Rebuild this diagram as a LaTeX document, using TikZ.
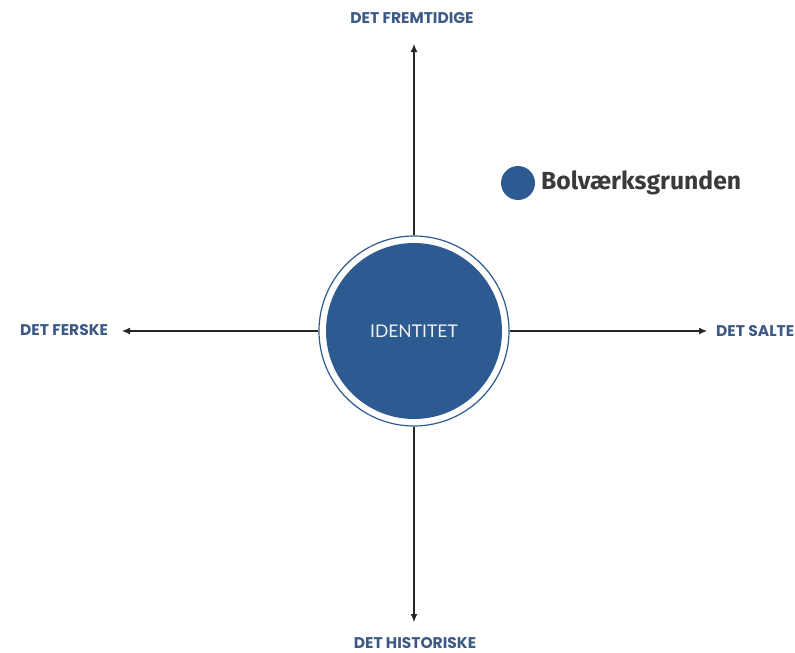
\documentclass[tikz,border=0pt]{standalone}
\usepackage{fontspec}
\setmainfont{Lato}
\newfontfamily\fira{Fira Sans}
\newfontfamily\pop{Poppins}
\usetikzlibrary{arrows.meta}
\definecolor{circblue}{HTML}{2D5B91}
\definecolor{lblblue}{HTML}{3D5A86}
\definecolor{darktxt}{HTML}{3A3A3A}
\tikzset{
  axislabel/.style={font=\pop\fontsize{15.5}{18}\selectfont\bfseries, text=lblblue, inner sep=0pt},
  axis/.style={line width=1.1pt, black!85, -{Latex[length=8pt,width=7pt]}},
}
\begin{document}
\begin{tikzpicture}[x=1pt,y=-1pt]
\useasboundingbox (0,0) rectangle (795,653);
\node[circle, draw=circblue, line width=1.2pt, minimum size=190pt, inner sep=0pt] (ring) at (414,331) {};
\node[circle, fill=circblue, minimum size=176pt, inner sep=0pt, text=white!92!circblue, font=\fontsize{17.5}{20}\selectfont] (core) at (414,331) {IDENTITET};
\node[axislabel] (up) at (412,18) {DET FREMTIDIGE};
\node[axislabel] (down) at (415,643) {DET HISTORISKE};
\node[axislabel, anchor=west] (left) at (20,330) {DET FERSKE};
\node[axislabel, anchor=west] (right) at (716,331) {DET SALTE};
\coordinate (upend) at (414,44);
\coordinate (downend) at (414,622);
\coordinate (leftend) at (122,330);
\coordinate (rightend) at (707,331);
\draw[axis] (ring.north) -- (upend);
\draw[axis] (ring.south) -- (downend);
\draw[axis] (ring.west) -- (leftend |- ring.west);
\draw[axis] (ring.east) -- (rightend |- ring.east);
\node[circle, fill=circblue, minimum size=34pt, inner sep=0pt] (dot) at (518,183) {};
\node[anchor=west, inner sep=0pt, text=darktxt, font=\fira\fontsize{24.7}{28}\selectfont\bfseries] (legend) at (541,183) {Bolværksgrunden};
\end{tikzpicture}
\end{document}
